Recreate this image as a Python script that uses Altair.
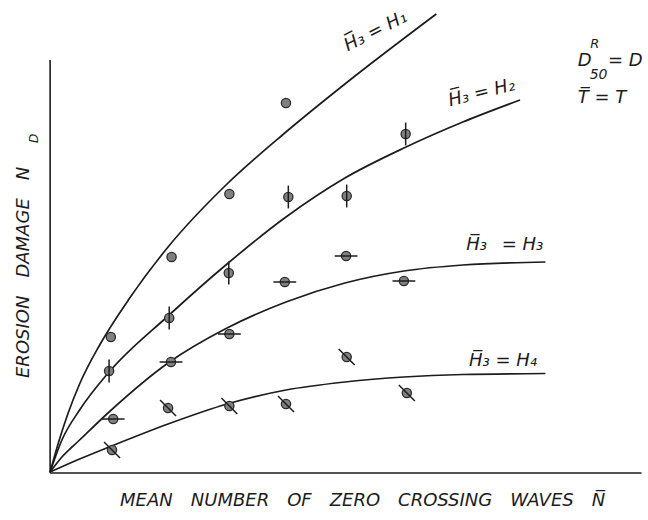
import altair as alt
import pandas as pd

# Observed erosion damage N_D against mean number of zero crossing waves N,
# one list pair per wave-height class H1..H4
H1_N = [1.03, 2.06, 3.04, 4.00]
H1_D = [13.5, 21.5, 27.8, 36.9]
H2_N = [1.00, 2.02, 3.03, 4.04, 5.03, 6.03]
H2_D = [10.1, 15.4, 19.9, 27.5, 27.6, 33.8]
H3_N = [1.07, 2.05, 3.04, 3.98, 5.02, 6.00]
H3_D = [5.3, 11.0, 13.8, 19.0, 21.6, 19.1]
H4_N = [1.05, 2.00, 3.04, 4.00, 5.03, 6.05]
H4_D = [2.2, 6.4, 6.6, 6.8, 11.5, 7.9]

# Trend curves through the origin, sampled along each drawn curve
C1_N = [0, 0.15, 0.3, 0.5, 0.85, 1.35, 2.0, 3.0, 4.0, 5.0, 6.55]
C1_D = [0, 3.1, 5.8, 8.8, 12.8, 17.4, 22.5, 28.8, 34.0, 38.8, 45.8]
C2_N = [0, 0.2, 0.5, 1.0, 2.0, 3.0, 4.0, 5.0, 6.0, 7.0, 7.97]
C2_D = [0, 3.2, 6.2, 10.0, 15.6, 20.8, 25.5, 29.4, 32.4, 35.0, 37.2]
C3_N = [0, 0.2, 0.5, 1.0, 2.0, 3.0, 4.0, 5.0, 6.0, 7.0, 8.4]
C3_D = [0, 1.5, 3.2, 6.0, 10.9, 14.4, 17.0, 18.9, 20.1, 20.7, 21.0]
C4_N = [0, 0.5, 1.0, 2.0, 3.0, 4.0, 5.0, 6.0, 7.0, 8.4]
C4_D = [0, 1.3, 2.5, 4.8, 6.8, 8.2, 9.0, 9.5, 9.75, 9.85]

SERIES = ["H1", "H2", "H3", "H4"]

INK = "#1c1c1c"
FONT = "DejaVu Sans"
GAP = "\u2003"      # wide word gap of the stencil lettering
OVER = "\u0305"     # combining overline for mean values


def frame(name, n, d):
    return pd.DataFrame({"series": name, "N": n, "D": d})


obs = pd.concat([frame(s, n, d) for s, n, d in
                 zip(SERIES, [H1_N, H2_N, H3_N, H4_N], [H1_D, H2_D, H3_D, H4_D])])
curves = pd.concat([frame(s, n, d) for s, n, d in
                    zip(SERIES, [C1_N, C2_N, C3_N, C4_N], [C1_D, C2_D, C3_D, C4_D])])

xs = alt.Scale(domain=[-0.85, 10.14], nice=False, zero=False)
ys = alt.Scale(domain=[-4.8, 47.2], nice=False, zero=False)
X = alt.X("N:Q", scale=xs, axis=None)
Y = alt.Y("D:Q", scale=ys, axis=None)

# hand-drawn axes: no ticks, no numbers
axes_df = pd.DataFrame({"N": [0, 0], "N2": [10.03, 0], "D": [-0.1, -0.1], "D2": [-0.1, 41.2]})
axes = alt.Chart(axes_df).mark_rule(color=INK, strokeWidth=1.6).encode(
    x=X, x2="N2:Q", y=Y, y2="D2:Q")

lines = alt.Chart(curves).mark_line(
    interpolate="monotone", color=INK, strokeWidth=1.7).encode(
    x=X, y=Y, detail="series:N", order="N:Q")

dots = alt.Chart(obs).mark_point(
    shape="circle", filled=True, fill="#808080", stroke="#2a2a2a",
    strokeWidth=1.3, size=85, opacity=1).encode(x=X, y=Y)

# each class carries its own bar through the circle
bar_shapes = alt.Scale(
    domain=["H2", "H3", "H4"],
    range=["M0,-1L0,1", "M-1,0L1,0", "M-0.7,-0.7L0.7,0.7"])
bars = alt.Chart(obs).transform_filter(alt.datum.series != "H1").mark_point(
    filled=False, stroke=INK, strokeWidth=1.5, size=520, opacity=1).encode(
    x=X, y=Y, shape=alt.Shape("series:N", scale=bar_shapes, legend=None))


def label(text, n, d, size=18, angle=0, align="center", baseline="alphabetic"):
    return alt.Chart(pd.DataFrame({"N": [n], "D": [d]})).mark_text(
        text=text, font=FONT, fontStyle="italic", fontSize=size, angle=angle,
        align=align, baseline=baseline, color=INK).encode(x=X, y=Y)


texts = [
    label("H" + OVER + "\u2083 = H\u2081", 5.56, 43.6, size=18, angle=333),
    label("H" + OVER + "\u2083 = H\u2082", 7.34, 37.4, size=18, angle=346),
    label("H" + OVER + "\u2083\u2002 = H\u2083", 7.71, 22.2, size=18),
    label("H" + OVER + "\u2083 = H\u2084", 7.68, 10.6, size=18),
    label("D", 8.95, 40.6, size=18, align="left"),
    label("R", 9.16, 42.4, size=13, align="left"),
    label("50", 9.15, 39.3, size=14, align="left"),
    label("= D", 9.46, 40.6, size=18, align="left"),
    label("T" + OVER + " = T", 8.95, 36.9, size=18, align="left"),
    label(GAP.join(["MEAN", "NUMBER", "OF", "ZERO", "CROSSING", "WAVES", "N" + OVER]),
          5.3, -3.4, size=18),
    label(GAP.join(["EROSION", "DAMAGE", "N"]), -0.36, 9.4, size=18, angle=270, align="left"),
    label("D", -0.20, 32.9, size=12, angle=270, align="left"),
]

chart = alt.layer(axes, lines, dots, bars, *texts).properties(
    width=648, height=520, padding=0,
    autosize=alt.AutoSizeParams(type="none"),
    background="white",
).configure_view(stroke=None)

chart.save("out.html", embed_options={"renderer": "svg", "actions": False})
